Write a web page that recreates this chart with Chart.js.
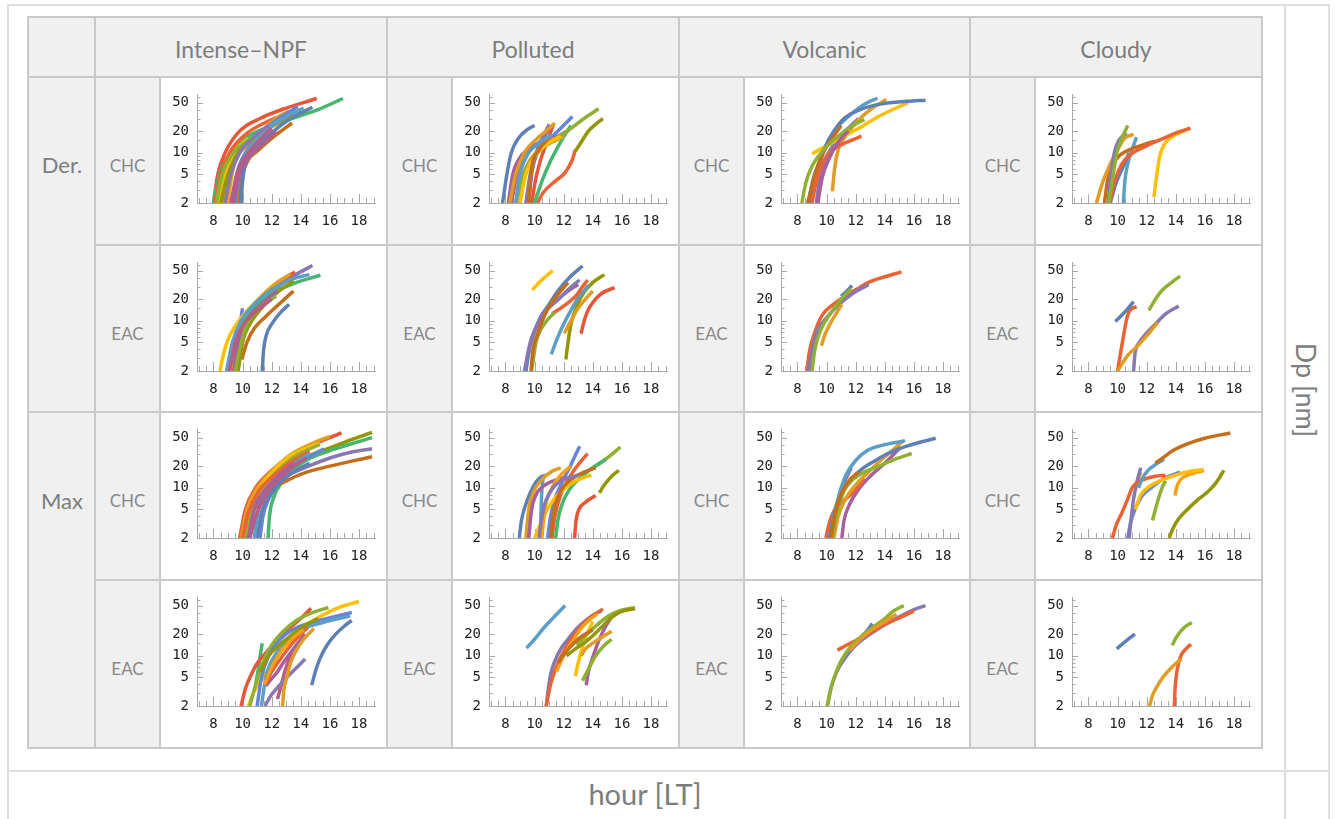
<!DOCTYPE html>
<html>
<head>
<meta charset="utf-8">
<script src="https://cdn.jsdelivr.net/npm/chart.js@4"></script>
<style>
  body { margin: 0; background: #fff; width: 1335px; height: 819px; overflow: hidden; position: relative; font-family: Lato, "Open Sans", sans-serif; }
  .frame { position: absolute; left: 7px; top: 4px; width: 1319px; height: 830px; border: 2px solid #dedede; }
  .line { position: absolute; background: #dedede; }
  .cell { position: absolute; box-sizing: border-box; }
  .grey { background: #f0f0f0; }
  .white { background: #fff; }
  .gline { position: absolute; background: #c9c9c9; }
  canvas { position: absolute; }
  .txt { position: absolute; color: #7d7d7d; white-space: nowrap; transform: translate(-50%, -50%); }
</style>
</head>
<body>
<div class="frame"></div>
<div id="page"></div>
<script>
// Mathematica default colour cycle
const palette = ['#5E81B5','#E19C24','#8FB032','#EB6235','#8778B3','#C56E1A','#5D9EC7','#FFBF00','#A5609D','#929600','#E95536','#6685D9','#F89F13','#BC5B80','#47B66D'];

const groups = ['Intense\u2013NPF', 'Polluted', 'Volcanic', 'Cloudy'];
const methods = ['Der.', 'Max'];
const stations = ['CHC', 'EAC', 'CHC', 'EAC'];

const xTicks = [8, 10, 12, 14, 16, 18];
const xMinor = [7, 7.5, 8.5, 9, 9.5, 10.5, 11, 11.5, 12.5, 13, 13.5, 14.5, 15, 15.5, 16.5, 17, 17.5, 18.5, 19];
const yTicks = [2, 5, 10, 20, 50];
const yMinor = [3, 4, 6, 7, 8, 9, 15, 30, 40, 60];

// ---- Der. / CHC ----
const npfDerChc = [
  [[9.2,2],[9.6,5],[10.4,10],[11.3,16],[12.0,22]],
  [[9.4,2],[9.8,5],[10.5,9],[11.5,14],[12.3,20]],
  [[8.8,2],[9.2,5],[9.8,10],[10.8,17],[11.8,24]],
  [[9.5,2],[9.8,5],[10.3,10],[11.5,20],[13,32],[14.2,42]],
  [[8.5,2],[9.0,5],[9.7,10],[10.8,16],[12.3,26],[13.5,35]],
  [[9.3,2],[9.6,5],[10.2,10],[11.4,20],[12.5,30],[13.8,44]],
  [[9.9,2],[10.0,4],[10.2,7],[10.8,11],[12,19],[13.3,30],[14.8,43]],
  [[8.2,2],[8.6,5],[9.2,9],[10.2,14],[11.5,20],[13.2,32],[14.0,40]],
  [[8.6,2],[8.9,4],[9.2,6],[9.6,9],[10.4,13],[11.5,22],[12.6,33],[13.2,38]],
  [[8.4,2],[8.8,5],[9.4,10],[10.4,16]],
  [[9.0,2],[9.2,4],[9.5,8],[10.0,12]],
  [[8.1,2],[8.5,5],[9.1,10],[10.2,18],[11.5,26],[12.8,34]],
  [[9.7,2],[10.0,5],[10.4,8],[11.0,10.5],[12.1,16.5],[13.4,26]],
  [[8.0,2],[8.4,5],[9.0,9],[10.2,16],[11.8,23],[13.6,31],[15.2,40],[16.9,57]],
  [[8.0,2],[8.3,5],[8.8,10],[9.8,20],[11.2,30],[13,42],[15.1,57]]
];
const npfDerChcCol = [14, 9, 5, 7, 10, 12, 1, 3, 2, 8, 13, 4, 6, 15, 11];

const polDerChc = [
  [[8.7,2],[9.0,5],[9.6,10],[10.4,14],[11.2,18]],
  [[9.6,2],[9.8,6],[10.3,11],[11.0,16]],
  [[9.0,2],[9.4,5],[10.2,10],[11.0,14],[11.8,17]],
  [[8.7,2],[9.2,5],[10.2,10],[11.3,15],[12.4,21],[13.4,30],[14.4,41]],
  [[12.8,10.5],[13.2,14],[13.7,20],[14.2,25],[14.7,30]],
  [[8.9,2],[9.2,4.5],[9.7,8],[10.6,12],[11.5,15],[12.0,17]],
  [[8.3,2],[8.7,5],[9.3,10],[10.2,16],[10.9,21],[11.4,26]],
  [[9.4,2],[9.7,5],[10.1,10],[10.6,17],[11.0,25]],
  [[8.4,2],[8.9,6],[9.7,11],[10.7,14],[11.6,17],[12.2,20]],
  [[8.2,2],[8.5,5],[8.9,8],[9.6,11.5],[10.5,15],[11.1,24]],
  [[9.6,2],[9.8,5],[10.2,10],[11.0,15],[11.8,22],[12.6,32]],
  [[10.0,2],[10.5,4],[11.0,7],[11.6,12],[12.1,18],[12.5,24]],
  [[9.8,2],[10.1,4.5],[10.5,9],[10.9,15],[11.3,25]],
  [[10.2,2],[10.6,2.8],[11.4,4],[12.1,5.3],[12.6,8],[12.8,11]],
  [[7.8,2],[8.1,5],[8.4,10],[8.9,16],[9.5,21],[10.0,24]]
];
const polDerChcCol = [7, 6, 8, 3, 10, 13, 2, 5, 14, 9, 12, 15, 11, 4, 1];

const volDerChc = [
  [[9.4,2],[9.7,4.5],[10.2,8.5],[10.8,14],[11.5,20]],
  [[8.3,2],[8.6,4],[9.0,6.5],[9.8,11],[10.8,17],[11.8,24],[12.6,29]],
  [[9.0,2],[9.3,4],[9.7,7],[10.3,10.5],[11.2,13.5],[12.4,17]],
  [[8.7,2],[9.2,5],[9.7,9.5],[10.4,16],[11.0,24]],
  [[8.9,2],[9.3,5],[9.9,12],[10.5,20],[11.2,30],[12.3,40],[13.8,48],[15.5,52],[16.8,54]],
  [[8.75,2],[9.1,4.5],[9.6,8],[10.1,14],[10.6,21],[11.5,32],[12.5,46],[13.5,58]],
  [[9.0,9.7],[10.0,12.5],[11.2,17],[12.4,23],[13.7,33],[15.6,50]],
  [[10.4,2.9],[10.55,6],[10.8,11],[11.3,17],[12.0,26],[13.0,40],[14.1,55]],
  [[9.3,2],[9.5,4],[9.9,8],[10.5,13],[11.3,20],[12.2,30]]
];
const volDerChcCol = [9, 3, 4, 6, 1, 7, 8, 2, 5];

const cldDerChc = [
  [[9.4,2],[9.7,5],[9.95,10],[10.3,16],[10.7,24]],
  [[9.35,2],[9.55,5],[9.8,10.5],[10.1,15],[10.6,19]],
  [[8.55,2],[9.0,4],[9.5,7],[10.0,11],[10.5,16],[11.1,18]],
  [[9.45,2],[9.8,4],[10.3,7],[11.0,9.8],[12.0,12.5],[13.2,16],[14.2,19.5],[15.0,22]],
  [[9.1,2],[9.3,4],[9.6,6.5],[10.1,9],[10.8,11],[11.8,13],[12.6,14.5]],
  [[9.5,2],[9.9,3.8],[10.4,6.5],[10.8,10]],
  [[10.4,2],[10.5,4],[10.7,7],[11.0,11],[11.3,16.5]],
  [[12.5,2.4],[12.7,5],[12.9,9],[13.2,13],[13.7,16.5],[14.3,19],[15.0,22]]
];
const cldDerChcCol = [3, 5, 2, 4, 6, 1, 7, 8];

// ---- Der. / EAC ----
const npfDerEac = [
  [[9.1,2],[9.5,5],[10.1,9],[11.0,14],[12.0,20]],
  [[9.5,2],[9.8,4],[10.2,8],[11.0,14],[12.3,22]],
  [[9.4,2],[9.7,5],[10.3,10],[11.3,17],[12.4,26]],
  [[11.35,2],[11.45,4],[11.65,6.5],[12.0,9],[12.6,13],[13.2,17]],
  [[9.7,2],[10.0,5],[10.5,9],[11.3,15],[12.3,24],[13.5,36]],
  [[9.95,2.9],[10.3,5],[10.8,7.8],[11.6,11.5],[12.5,17],[13.5,26]],
  [[8.9,2],[9.3,5],[9.9,10],[10.8,17],[12,27],[13.4,38],[14.6,44]],
  [[9.0,2],[9.4,5],[10.0,10],[11.0,17],[12.2,25],[13.5,33],[15.35,43]],
  [[9.2,2],[9.5,5],[10.1,11],[11.0,19],[12.2,32],[13.3,45]],
  [[9.4,2],[9.7,5],[10.3,11],[11.2,19],[12.4,33],[13.6,48]],
  [[9.3,2],[9.6,5],[10.2,10],[11.2,18],[12.3,28],[13.5,42],[14.8,59]],
  [[8.45,2],[8.7,3.5],[9.0,5.5],[9.5,8.5],[10.2,13],[11.0,19],[12.0,30],[13.0,40],[13.6,45]],
  [[9.7,4],[9.8,7],[9.9,11],[10.0,15]],
  [[9.6,2.5],[9.8,5],[10.0,9],[10.2,13]]
];
const npfDerEacCol = [14, 3, 9, 1, 10, 6, 7, 15, 2, 11, 5, 8, 12, 4];

const polDerEac = [
  [[9.75,2],[9.9,4],[10.2,6.5],[10.7,12],[11.5,22],[12.3,34]],
  [[9.8,2],[10.1,5],[10.5,8],[11.2,12],[11.4,13]],
  [[9.3,2],[9.7,5],[10.2,9],[10.6,13],[11.4,18],[12.3,27],[13.1,37]],
  [[10.8,14],[11.5,19],[12.3,26],[13.0,32]],
  [[9.4,2],[9.7,4.5],[10.0,7],[10.4,11],[11.0,17],[11.6,26],[12.4,40],[13.3,58]],
  [[11.2,12.5],[11.8,15],[12.4,18.5],[12.9,23],[13.3,30],[13.65,37]],
  [[11.15,3.4],[11.5,5.3],[12.0,9],[12.5,14],[13.0,21],[13.7,31]],
  [[12.05,6.7],[12.5,10],[13.0,15],[13.5,20],[14.0,26]],
  [[12.15,2.9],[12.3,5],[12.5,9],[12.9,16],[13.4,25],[14.0,34],[14.8,44]],
  [[13.2,6.6],[13.35,9],[13.6,13],[14.0,18],[14.6,24],[15.5,29]],
  [[9.85,27],[10.3,34],[10.8,42],[11.25,50]]
];
const polDerEacCol = [6, 3, 5, 9, 1, 4, 7, 2, 10, 11, 8];

const volDerEac = [
  [[9.0,2],[9.2,4],[9.6,7.5],[10.3,13],[11.0,20],[11.7,28]],
  [[11.0,22],[11.4,26],[11.75,31]],
  [[9.65,4.5],[9.9,6.5],[10.3,9.5],[10.7,13],[11.05,17]],
  [[8.8,2],[9.0,4],[9.4,7.5],[10.0,11],[10.8,16.5],[11.8,24],[12.9,32]],
  [[8.65,2],[8.8,3.5],[9.0,5.2],[9.3,8],[9.7,12],[10.4,16.5],[11.1,21],[12,27],[13,35],[14,41],[15.15,48]]
];
const volDerEacCol = [3, 1, 2, 5, 4];

const cldDerEac = [
  [[9.85,9.8],[10.2,11.5],[10.6,14],[11.1,18.5]],
  [[10.0,2],[10.7,3.3],[11.4,4.5],[12.1,6.5],[12.75,9.5]],
  [[10.0,2],[10.2,3.5],[10.4,6],[10.6,10],[10.8,13.5],[11.3,15.8]],
  [[11.1,2],[11.2,3.5],[11.5,5],[12.0,6.8],[12.6,9],[13.3,12.5],[14.2,16]],
  [[12.15,14],[12.6,20],[13.1,27],[13.7,34],[14.3,42]]
];
const cldDerEacCol = [1, 2, 4, 5, 3];

// ---- Max / CHC ----
const npfMaxChc = [
  [[10.4,2],[10.8,5],[11.5,9],[12.5,15],[13.5,22]],
  [[10.5,2],[10.9,4],[11.6,8],[12.6,14],[13.8,22],[14.4,26]],
  [[10.8,2],[11.1,5],[11.7,9],[12.6,15],[13.6,22],[14.6,30]],
  [[11.0,2],[11.3,4.5],[11.9,8],[12.8,13],[13.8,18],[14.6,22]],
  [[11.2,2],[11.4,4],[11.8,7],[12.5,12],[13.5,20],[14.7,28],[15.6,35]],
  [[10.0,2],[10.4,4.5],[11.1,9],[12,14],[13.2,22],[14.6,32]],
  [[10.2,2],[10.6,5],[11.4,10],[12.5,18],[13.7,28],[15.3,40]],
  [[10.1,2],[10.5,5],[11.2,10],[12.2,18],[13.3,28],[15.3,42]],
  [[9.9,2],[10.3,5],[11.0,10],[12.0,17],[13.2,28],[14.5,39],[16,52]],
  [[10.2,2],[10.6,4],[11.2,7.5],[12.0,10.5],[13.0,14.5],[14.4,19.5],[16,26],[17.5,31.5],[18.9,35]],
  [[9.9,2],[10.3,3.3],[10.8,5],[11.4,7],[12.1,9.8],[13.0,12.5],[14.4,16.5],[16,20],[17.5,23.5],[18.9,27]],
  [[11.75,2],[11.85,4],[12.1,7],[12.7,12],[13.5,18],[14.5,25],[16,33],[17.5,41],[18.9,50]],
  [[10.0,2],[10.5,5],[11.3,10],[12.5,17],[14,25],[15.5,33],[17,43],[18.9,59]],
  [[9.8,2],[10.2,5],[10.9,10],[11.8,16],[13,25],[14.5,37],[16.8,58]]
];
const npfMaxChcCol = [9, 14, 7, 1, 12, 4, 3, 8, 2, 5, 6, 15, 10, 11];

const polMaxChc = [
  [[10.3,2],[10.6,5],[11.2,9.5],[12.0,13],[13.0,15]],
  [[10.5,2],[10.7,5],[11.2,10],[11.8,15],[12.5,20]],
  [[11.1,2],[11.3,4.5],[11.8,9],[12.5,13],[13.4,16.5],[14.2,19]],
  [[9.6,2],[9.8,5],[10.1,8],[10.6,10.5],[11.3,12.5],[12.2,14]],
  [[10.0,2],[10.5,3.5],[11.0,5.5],[11.6,8],[12.4,11],[13.2,13.5],[13.9,15]],
  [[9.4,2],[9.6,5],[9.9,8.5],[10.5,13],[11.2,17],[11.8,19]],
  [[10.4,2],[10.45,5],[10.5,9],[10.6,14]],
  [[11.45,2],[11.6,3.5],[11.9,6],[12.4,9.5],[13.1,13.5],[14.0,19],[14.9,25]],
  [[13.8,18],[14.5,22],[15.2,28],[15.9,37]],
  [[11.2,2],[11.4,4],[11.8,8],[12.4,14],[13.0,21],[13.65,30]],
  [[10.9,2],[11.1,4],[11.4,7],[11.9,12],[12.5,21],[13.1,38]],
  [[12.75,2],[12.85,3.5],[13.05,5],[13.5,6.3],[14.2,7.8]],
  [[14.45,8.5],[14.8,11],[15.3,14.5],[15.8,17.5]],
  [[8.95,2],[9.1,3.5],[9.35,5.5],[9.7,8.5],[10.1,12],[10.4,14],[10.8,15]]
];
const polMaxChcCol = [5, 13, 6, 9, 8, 2, 7, 15, 3, 4, 12, 11, 10, 1];

const volMaxChc = [
  [[10.3,2],[10.6,4.5],[11.1,9],[11.7,13.5],[12.2,16.5]],
  [[10.4,2],[10.7,4.5],[11.2,9],[11.8,13],[12.6,16.5],[13.6,20],[14.7,25],[15.85,30]],
  [[10.2,2],[10.5,4],[11.0,8],[11.7,13],[12.4,18],[13.2,23],[14.2,30],[15.5,38],[17.5,49]],
  [[10.2,2],[10.4,3.5],[10.7,6],[11.0,10],[11.4,16],[12.0,24],[12.8,33],[13.8,39],[15.4,45]],
  [[10.5,2],[10.8,4],[11.3,7],[12.0,11],[12.8,16],[13.8,25],[14.6,34],[15.3,46]],
  [[9.95,2],[10.2,3.3],[10.5,4.7],[11.0,6.2],[11.6,7.8],[12.1,10],[12.6,13.5]],
  [[10.4,2],[10.6,4],[10.9,8],[11.3,13],[11.7,19]],
  [[11.05,2],[11.2,3.5],[11.6,6],[12.2,9.5],[13,14.5],[14,22],[15.1,37]],
  [[10.5,4.7],[10.9,7.5],[11.3,10.5],[11.7,14]]
];
const volMaxChcCol = [6, 3, 1, 7, 2, 4, 5, 9, 8];

const cldMaxChc = [
  [[12.6,22],[13.1,26],[13.8,33],[14.8,41],[16,49],[17.75,58]],
  [[11.45,10],[11.7,13.5],[12.1,17.5],[12.6,21],[13.2,25]],
  [[9.65,2],[9.9,3],[10.3,4.5],[10.7,7],[11.0,10],[11.4,12],[12.0,13.5],[12.6,14.5],[13.3,15]],
  [[10.8,2],[10.95,4],[11.1,7],[11.3,11],[11.45,15],[11.6,19]],
  [[11.3,12],[11.45,14],[11.6,16.5]],
  [[11.2,5],[11.6,8],[12.2,10.5],[13.0,12.7],[14.0,15],[15.0,17],[15.9,18]],
  [[10.7,2],[10.9,3.3],[11.2,5],[11.7,7.8],[12.3,10],[13.2,13.5],[14.3,16.5]],
  [[13.95,7.8],[14.05,10],[14.3,12.8],[14.8,15],[15.5,16.5],[15.95,17.5]],
  [[12.4,3.5],[12.6,5],[12.85,7.5],[13.1,10.5],[13.3,12.5]],
  [[13.55,2],[13.8,2.7],[14.2,3.7],[14.8,5],[15.5,6.8],[16.2,8.8],[16.8,12],[17.3,17.5]]
];
const cldMaxChcCol = [6, 7, 4, 5, 2, 8, 12, 13, 3, 10];

// ---- Max / EAC ----
const npfMaxEac = [
  [[11.5,4],[12.0,7],[12.7,12],[13.5,18],[14.2,23]],
  [[11.2,6],[11.8,10],[12.5,14],[13.3,19],[14.2,26],[15.2,33]],
  [[11.6,4],[12.0,6],[12.6,9],[13.3,14],[14,20],[14.5,25]],
  [[11.3,2],[11.6,5],[12.2,10],[13.0,16],[14.0,23],[15.5,29],[17.4,36]],
  [[11.0,2],[11.3,5],[11.8,10],[12.6,17],[13.6,24],[15,30],[16.3,35],[17.5,40]],
  [[14.75,3.9],[15.0,6],[15.3,9],[15.8,14],[16.4,20],[17.0,26],[17.5,31]],
  [[10.5,2],[10.9,4],[11.4,8],[12.0,14],[12.8,22],[13.8,32],[14.8,40],[15.9,47]],
  [[12.75,2],[12.85,3.5],[13.05,5],[13.3,8],[13.7,12],[14.2,17],[14.9,24]],
  [[11.6,3.8],[12.0,4.8],[12.4,6],[12.8,8],[13.3,11],[13.8,15],[14.3,20]],
  [[11.55,2],[11.9,2.7],[12.4,3.6],[12.9,4.7],[13.5,6.2],[14.0,7.8],[14.3,9]],
  [[12.4,2.5],[12.6,3.5],[12.9,6],[13.2,9],[13.4,11]],
  [[10.4,2],[10.8,3.2],[11.4,5],[12.0,7.5],[12.6,11.5],[13.3,17],[14.2,25],[15.3,35],[16.6,47],[18,57]],
  [[9.9,2],[10.2,3.5],[10.6,5.5],[11.0,7.8],[11.6,11],[12.3,16],[13.2,24],[14.0,33],[14.7,46]],
  [[10.9,4],[11.05,6],[11.2,9.5],[11.35,15]]
];
const npfMaxEacCol = [13, 10, 4, 7, 12, 1, 3, 2, 9, 5, 14, 8, 11, 15];

const polMaxEac = [
  [[11.6,8],[12.1,11],[12.7,15],[13.3,19],[14.0,23]],
  [[11.5,6],[12.0,10],[12.6,16],[13.2,24],[13.8,32],[14.3,38]],
  [[12.2,10],[12.8,12.5],[13.4,15],[14.0,19],[14.6,25],[15.2,33],[15.9,41],[16.9,45]],
  [[12.9,14],[13.6,20],[14.3,27],[15.0,35],[15.8,42],[16.9,47]],
  [[13.2,10],[13.5,12.5],[14.0,15],[14.6,18],[15.3,22]],
  [[13.3,4.5],[13.7,6.5],[14.2,10],[14.8,14],[15.3,17]],
  [[12.8,5.2],[13.0,8],[13.3,13.5],[13.6,20],[14.0,30]],
  [[10.8,2],[11.1,4],[11.5,7],[12.0,11.5],[12.6,18],[13.3,27],[14.0,36],[14.7,45]],
  [[13.55,3.9],[13.7,6],[14.0,9.5],[14.4,16],[14.9,26],[15.3,35]],
  [[10.8,2],[10.95,3.5],[11.1,5.5],[11.4,8.5],[11.8,12.5],[12.3,17],[12.9,24],[13.5,31],[14.1,38],[14.6,42]],
  [[9.45,12.8],[10.0,17],[10.6,24],[11.3,34],[12.1,50]]
];
const polMaxEacCol = [6, 13, 10, 3, 2, 3, 8, 4, 9, 5, 7];

const volMaxEac = [
  [[11.6,12],[12.3,17],[13.1,23],[14.0,30],[14.8,38]],
  [[10.05,2],[10.3,3.5],[10.6,5.5],[11.0,8.5],[11.6,13],[12.3,18],[13.2,25],[14.0,33],[14.6,42],[15.3,50]],
  [[12.0,15],[12.6,20],[13.15,28]],
  [[10.75,12],[11.5,14.5],[12.3,17.5],[13.0,21],[13.8,26],[14.6,31],[15.3,36],[16.0,42]],
  [[10.05,2],[10.3,3.5],[10.7,6],[11.3,9.5],[12.0,14],[13.0,20],[14.0,27],[15.0,35],[16.0,44],[16.8,50]]
];
const volMaxEacCol = [2, 3, 1, 4, 5];

const cldMaxEac = [
  [[9.95,12.5],[10.4,15],[10.8,17.5],[11.2,20]],
  [[13.75,14],[14.1,19],[14.6,25],[15.1,29]],
  [[12.2,2],[12.4,2.8],[12.7,3.7],[13.1,5],[13.6,6.5],[14.0,7.8],[14.4,9]],
  [[13.9,2],[13.95,3.5],[14.05,5.5],[14.2,8],[14.4,10.5],[14.7,12.5],[15.05,14.5]]
];
const cldMaxEacCol = [1, 3, 2, 4];

const panelData = [
  [npfDerChc, polDerChc, volDerChc, cldDerChc],
  [npfDerEac, polDerEac, volDerEac, cldDerEac],
  [npfMaxChc, polMaxChc, volMaxChc, cldMaxChc],
  [npfMaxEac, polMaxEac, volMaxEac, cldMaxEac]
];
const panelColors = [
  [npfDerChcCol, polDerChcCol, volDerChcCol, cldDerChcCol],
  [npfDerEacCol, polDerEacCol, volDerEacCol, cldDerEacCol],
  [npfMaxChcCol, polMaxChcCol, volMaxChcCol, cldMaxChcCol],
  [npfMaxEacCol, polMaxEacCol, volMaxEacCol, cldMaxEacCol]
];

// ---- layout of the grid ----
const colX = [28, 95, 160, 387, 452, 679, 744, 970, 1035, 1262];
const rowY = [17, 77, 245, 412, 580, 748];
const page = document.getElementById('page');

function addDiv(cls, x, y, w, h, text, style) {
  const d = document.createElement('div');
  d.className = cls;
  d.style.left = x + 'px'; d.style.top = y + 'px';
  if (w != null) d.style.width = w + 'px';
  if (h != null) d.style.height = h + 'px';
  if (text) d.textContent = text;
  if (style) Object.assign(d.style, style);
  page.appendChild(d);
  return d;
}

// outer frame dividers
addDiv('line', 1284, 4, 2, 830);
addDiv('line', 7, 770, 1321, 2);

// cell backgrounds
addDiv('cell grey', colX[0], rowY[0], colX[9] - colX[0], rowY[5] - rowY[0]);
for (let r = 0; r < 4; r++) {
  for (let g = 0; g < 4; g++) {
    addDiv('cell white', colX[2 + 2 * g], rowY[1 + r], colX[3 + 2 * g] - colX[2 + 2 * g], rowY[2 + r] - rowY[1 + r]);
  }
}
// grid lines
colX.forEach((x, i) => {
  let top = rowY[0], bottom = rowY[5];
  if (i === 2 || i === 4 || i === 6 || i === 8) top = rowY[1];
  addDiv('gline', x - 1, top - 1, 2, bottom - top + 2);
});
rowY.forEach((y, i) => {
  const left = (i === 2 || i === 4) ? colX[1] : colX[0];
  addDiv('gline', left - 1, y - 1, colX[9] - left + 2, 2);
});

// texts
groups.forEach((t, g) => {
  addDiv('txt', (colX[1 + 2 * g] + colX[3 + 2 * g]) / 2, 49, null, null, t, { fontSize: '23px' });
});
methods.forEach((t, m) => {
  addDiv('txt', 62, m === 0 ? 164 : 500, null, null, t, { fontSize: '22px' });
});
stations.forEach((t, r) => {
  for (let g = 0; g < 4; g++) {
    addDiv('txt', (colX[1 + 2 * g] + colX[2 + 2 * g]) / 2, (rowY[1 + r] + rowY[2 + r]) / 2 + 4, null, null, t, { fontSize: '17px', color: '#888' });
  }
});
addDiv('txt', 1306, 390, null, null, 'Dp [nm]', { fontSize: '27px', transform: 'translate(-50%, -50%) rotate(90deg)' });
addDiv('txt', 645, 793, null, null, 'hour [LT]', { fontSize: '29px' });

// ---- charts ----
const inwardTicks = {
  id: 'inwardTicks',
  beforeDatasetsDraw(chart) {
    const { ctx, scales: { x, y } } = chart;
    ctx.save();
    ctx.strokeStyle = '#a8a8a8';
    ctx.lineWidth = 1;
    ctx.beginPath();
    const xb = y.bottom, yl = x.left;
    xTicks.forEach(v => { const p = Math.round(x.getPixelForValue(v)) + 0.5; ctx.moveTo(p, xb); ctx.lineTo(p, xb - 9); });
    xMinor.forEach(v => { const p = Math.round(x.getPixelForValue(v)) + 0.5; ctx.moveTo(p, xb); ctx.lineTo(p, xb - 5); });
    yTicks.forEach(v => { const p = Math.round(y.getPixelForValue(v)) + 0.5; ctx.moveTo(yl, p); ctx.lineTo(yl + 6, p); });
    yMinor.forEach(v => { const p = Math.round(y.getPixelForValue(v)) + 0.5; ctx.moveTo(yl, p); ctx.lineTo(yl + 3.5, p); });
    ctx.stroke();
    ctx.restore();
  }
};

const tickFont = { family: '"DejaVu Sans Mono", monospace', size: 14 };

function makeChart(r, g) {
  const canvas = document.createElement('canvas');
  canvas.width = 225; canvas.height = 166;
  canvas.style.left = (colX[2 + 2 * g] + 1) + 'px';
  canvas.style.top = (rowY[1 + r] + 1) + 'px';
  page.appendChild(canvas);
  const curves = panelData[r][g];
  const cols = panelColors[r][g];
  new Chart(canvas, {
    type: 'line',
    data: {
      datasets: curves.map((c, i) => ({
        data: c.map(([x, y]) => ({ x, y })),
        borderColor: palette[cols[i] - 1],
        borderWidth: 3.5,
        pointRadius: 0,
        fill: false,
        cubicInterpolationMode: 'monotone'
      }))
    },
    options: {
      responsive: false,
      animation: false,
      devicePixelRatio: 1,
      events: [],
      layout: { padding: { top: 14, right: 11, left: 0, bottom: 0 } },
      plugins: { legend: { display: false }, tooltip: { enabled: false } },
      scales: {
        x: {
          type: 'linear', min: 6.87, max: 19.1,
          grid: { display: false, drawTicks: false },
          border: { color: '#a8a8a8', width: 1 },
          afterBuildTicks: s => { s.ticks = xTicks.map(v => ({ value: v })); },
          afterFit: s => { s.height = 41; },
          ticks: { padding: 10, font: tickFont, color: '#222', maxRotation: 0, callback: v => String(v) }
        },
        y: {
          type: 'logarithmic', min: 2, max: 65,
          grid: { display: false, drawTicks: false },
          border: { color: '#a8a8a8', width: 1 },
          afterBuildTicks: s => { s.ticks = yTicks.map(v => ({ value: v })); },
          afterFit: s => { s.width = 36; },
          ticks: { padding: 8, font: tickFont, color: '#222', callback: v => String(v) }
        }
      }
    },
    plugins: [inwardTicks]
  });
}

for (let r = 0; r < 4; r++) {
  for (let g = 0; g < 4; g++) makeChart(r, g);
}
</script>
</body>
</html>
